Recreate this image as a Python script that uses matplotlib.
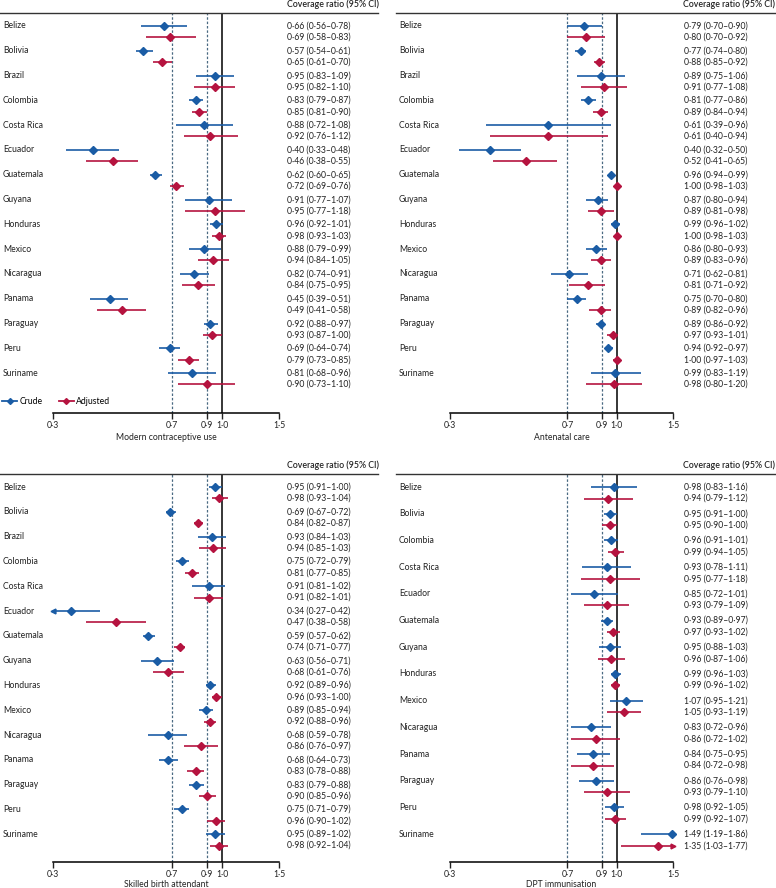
import matplotlib
matplotlib.use('Agg')
import matplotlib.pyplot as plt
from matplotlib.lines import Line2D
from matplotlib.ticker import NullLocator
from matplotlib.transforms import blended_transform_factory

# ----------------------------
# Data: (ratio, lower CI, upper CI)
# ----------------------------
countries = ["Belize", "Bolivia", "Brazil", "Colombia", "Costa Rica", "Ecuador", "Guatemala",
             "Guyana", "Honduras", "Mexico", "Nicaragua", "Panama", "Paraguay", "Peru", "Suriname"]
dpt_countries = [c for c in countries if c != "Brazil"]

mcu_crude = [(0.66, 0.56, 0.78), (0.57, 0.54, 0.61), (0.95, 0.83, 1.09), (0.83, 0.79, 0.87),
             (0.88, 0.72, 1.08), (0.40, 0.33, 0.48), (0.62, 0.60, 0.65), (0.91, 0.77, 1.07),
             (0.96, 0.92, 1.01), (0.88, 0.79, 0.99), (0.82, 0.74, 0.91), (0.45, 0.39, 0.51),
             (0.92, 0.88, 0.97), (0.69, 0.64, 0.74), (0.81, 0.68, 0.96)]
mcu_adj = [(0.69, 0.58, 0.83), (0.65, 0.61, 0.70), (0.95, 0.82, 1.10), (0.85, 0.81, 0.90),
           (0.92, 0.76, 1.12), (0.46, 0.38, 0.55), (0.72, 0.69, 0.76), (0.95, 0.77, 1.18),
           (0.98, 0.93, 1.03), (0.94, 0.84, 1.05), (0.84, 0.75, 0.95), (0.49, 0.41, 0.58),
           (0.93, 0.87, 1.00), (0.79, 0.73, 0.85), (0.90, 0.73, 1.10)]

anc_crude = [(0.79, 0.70, 0.90), (0.77, 0.74, 0.80), (0.89, 0.75, 1.06), (0.81, 0.77, 0.86),
             (0.61, 0.39, 0.96), (0.40, 0.32, 0.50), (0.96, 0.94, 0.99), (0.87, 0.80, 0.94),
             (0.99, 0.96, 1.02), (0.86, 0.80, 0.93), (0.71, 0.62, 0.81), (0.75, 0.70, 0.80),
             (0.89, 0.86, 0.92), (0.94, 0.92, 0.97), (0.99, 0.83, 1.19)]
anc_adj = [(0.80, 0.70, 0.92), (0.88, 0.85, 0.92), (0.91, 0.77, 1.08), (0.89, 0.84, 0.94),
           (0.61, 0.40, 0.94), (0.52, 0.41, 0.65), (1.00, 0.98, 1.03), (0.89, 0.81, 0.98),
           (1.00, 0.98, 1.03), (0.89, 0.83, 0.96), (0.81, 0.71, 0.92), (0.89, 0.82, 0.96),
           (0.97, 0.93, 1.01), (1.00, 0.97, 1.03), (0.98, 0.80, 1.20)]

sba_crude = [(0.95, 0.91, 1.00), (0.69, 0.67, 0.72), (0.93, 0.84, 1.03), (0.75, 0.72, 0.79),
             (0.91, 0.81, 1.02), (0.34, 0.27, 0.42), (0.59, 0.57, 0.62), (0.63, 0.56, 0.71),
             (0.92, 0.89, 0.96), (0.89, 0.85, 0.94), (0.68, 0.59, 0.78), (0.68, 0.64, 0.73),
             (0.83, 0.79, 0.88), (0.75, 0.71, 0.79), (0.95, 0.89, 1.02)]
sba_adj = [(0.98, 0.93, 1.04), (0.84, 0.82, 0.87), (0.94, 0.85, 1.03), (0.81, 0.77, 0.85),
           (0.91, 0.82, 1.01), (0.47, 0.38, 0.58), (0.74, 0.71, 0.77), (0.68, 0.61, 0.76),
           (0.96, 0.93, 1.00), (0.92, 0.88, 0.96), (0.86, 0.76, 0.97), (0.83, 0.78, 0.88),
           (0.90, 0.85, 0.96), (0.96, 0.90, 1.02), (0.98, 0.92, 1.04)]

dpt_crude = [(0.98, 0.83, 1.16), (0.95, 0.91, 1.00), (0.96, 0.91, 1.01), (0.93, 0.78, 1.11),
             (0.85, 0.72, 1.01), (0.93, 0.89, 0.97), (0.95, 0.88, 1.03), (0.99, 0.96, 1.03),
             (1.07, 0.95, 1.21), (0.83, 0.72, 0.96), (0.84, 0.75, 0.95), (0.86, 0.76, 0.98),
             (0.98, 0.92, 1.05), (1.49, 1.19, 1.86)]
dpt_adj = [(0.94, 0.79, 1.12), (0.95, 0.90, 1.00), (0.99, 0.94, 1.05), (0.95, 0.77, 1.18),
           (0.93, 0.79, 1.09), (0.97, 0.93, 1.02), (0.96, 0.87, 1.06), (0.99, 0.96, 1.02),
           (1.05, 0.93, 1.19), (0.86, 0.72, 1.02), (0.84, 0.72, 0.98), (0.93, 0.79, 1.10),
           (0.99, 0.92, 1.07), (1.35, 1.03, 1.77)]

ticks = [0.3, 0.7, 0.9, 1.0, 1.5]

# ----------------------------
# Style
# ----------------------------
W, H = 776, 888
BLUE = '#1a5ca5'
RED = '#b5133f'
DASH = '#4a6a82'
TXT = '#222222'
FS = 6.2
MS = 4.2
XMIN, XMAX = 0.3, 1.5

plt.rcParams['font.family'] = ['Lato', 'DejaVu Sans']
plt.rcParams['font.size'] = FS

fig = plt.figure(figsize=(W / 100, H / 100), dpi=100)


def fmt(v):
    return f'{v:.2f}'.replace('.', '\u00b7')


def draw_series(ax, vals, ys, color):
    for (est, lo, hi), y in zip(vals, ys):
        ax.plot([max(lo, XMIN), min(hi, XMAX)], [y, y], color=color, lw=1.4,
                alpha=0.85, solid_capstyle='butt', clip_on=False, zorder=3)
        if lo < XMIN:
            ax.plot(XMIN, y, marker='<', ms=3.5, color=color, clip_on=False, zorder=3)
        if hi > XMAX:
            ax.plot(XMAX, y, marker='>', ms=3.5, color=color, clip_on=False, zorder=3)
        ax.plot(est, y, marker='D', ms=MS, color=color, mec=color, clip_on=False, zorder=4)


def panel(xpix, ypix, step, off, names, crude, adj, xlabel, col):
    x0, x1 = xpix
    head_y, first_y, axis_y = ypix
    ax = fig.add_axes([x0 / W, 1 - axis_y / H, (x1 - x0) / W, (axis_y - head_y) / H])
    ax.set_xscale('log')
    ax.set_xlim(XMIN, XMAX)
    ax.set_ylim(axis_y, head_y)
    ax.set_yticks([])
    for s in ['left', 'right', 'top']:
        ax.spines[s].set_visible(False)
    ax.spines['bottom'].set_linewidth(1.1)
    ax.xaxis.set_minor_locator(NullLocator())
    ax.set_xticks(ticks)
    ax.set_xticklabels([fmt(t)[:3] for t in ticks])
    ax.tick_params(axis='x', length=4, width=1.0, pad=2, labelsize=FS, colors=TXT)
    ax.patch.set_alpha(0)

    ax.axvline(1.0, color='black', lw=1.1, zorder=2)
    ax.axvline(0.7, color=DASH, lw=0.9, ls=(0, (2, 1.5)), zorder=1)
    ax.axvline(0.9, color=DASH, lw=0.9, ls=(0, (2, 1.5)), zorder=1)

    ys_c = [first_y + i * step for i in range(len(names))]
    ys_a = [y + off for y in ys_c]
    draw_series(ax, crude, ys_c, BLUE)
    draw_series(ax, adj, ys_a, RED)

    tr = blended_transform_factory(fig.transFigure, ax.transData)
    lab_x, val_x, line_x0, line_x1, head_x = col
    for name, y in zip(names, ys_c):
        ax.text(lab_x / W, y, name, transform=tr, va='center', ha='left', fontsize=FS, color=TXT)
    for vals, ys in [(crude, ys_c), (adj, ys_a)]:
        for (est, lo, hi), y in zip(vals, ys):
            ax.text(val_x / W, y, f'{fmt(est)} ({fmt(lo)}\u2013{fmt(hi)})', transform=tr,
                    va='center', ha='left', fontsize=FS, color=TXT)
    ax.plot([line_x0 / W, line_x1 / W], [head_y, head_y], transform=tr, color='#333333',
            lw=1.0, clip_on=False)
    ax.text(head_x / W, head_y - 8.5, 'Coverage ratio (95% CI)', transform=tr, ha='right',
            va='center', fontsize=6.3, fontweight='semibold', color=TXT)

    trx = blended_transform_factory(ax.transAxes, ax.transData)
    ax.text(0.5, axis_y + (25 if axis_y < 500 else 22), xlabel, transform=trx, ha='center',
            va='center', fontsize=FS, color=TXT)
    return ax


left_col = (3, 287, 0, 378, 379)
right_col = (399, 684, 396, 776, 775)

panel((53, 279), (13, 26, 413), 24.8, 11.3, countries, mcu_crude, mcu_adj,
      'Modern contraceptive use', left_col)
panel((450, 673), (13, 26, 413), 24.8, 11.3, countries, anc_crude, anc_adj,
      'Antenatal care', right_col)
panel((53, 279), (474, 487, 862), 24.8, 11.3, countries, sba_crude, sba_adj,
      'Skilled birth attendant', left_col)
panel((450, 673), (474, 487, 862), 26.7, 11.5, dpt_countries, dpt_crude, dpt_adj,
      'DPT immunisation', right_col)

handles = [Line2D([], [], color=BLUE, marker='D', ms=3.0, lw=1.3),
           Line2D([], [], color=RED, marker='D', ms=3.0, lw=1.3)]
fig.legend(handles, ['Crude', 'Adjusted'], loc='center left', bbox_to_anchor=(2 / W, 1 - 402 / H),
           ncol=2, frameon=False, fontsize=FS, handlelength=1.75, handletextpad=0.3,
           columnspacing=1.85, borderaxespad=0, borderpad=0)

fig.savefig('out.png', dpi=100)
